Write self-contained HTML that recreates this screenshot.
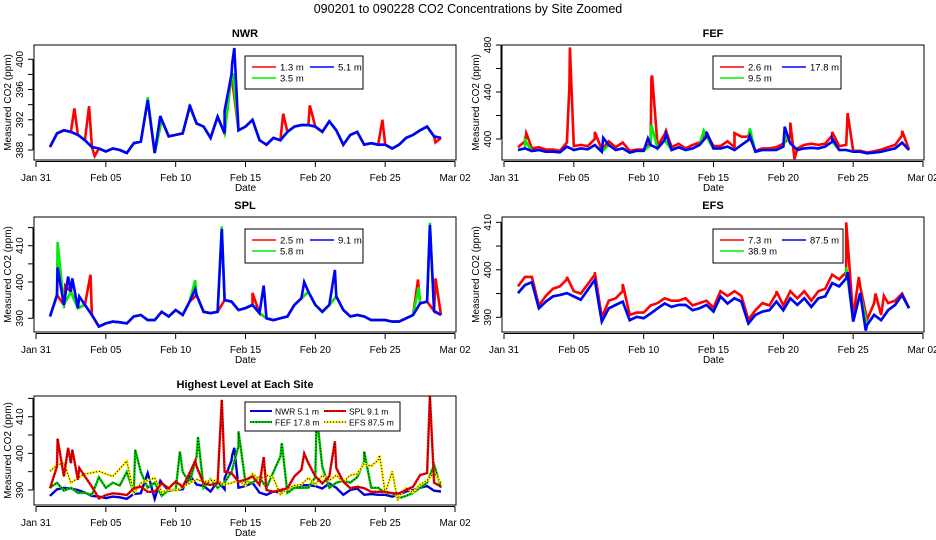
<!DOCTYPE html>
<html><head><meta charset="utf-8">
<style>
html,body{margin:0;padding:0;background:#fff;}
svg{display:block;font-family:"Liberation Sans",Arial,sans-serif;}
</style></head>
<body>
<svg id="chart" width="936" height="540" viewBox="0 0 936 540">
<text x="468" y="13" text-anchor="middle" font-size="12.5">090201  to  090228 CO2 Concentrations by Site Zoomed</text>
</svg>
<script>
// ---- data: half-day samples from Feb 1 (day 1) to Feb 29.0 (day 29) ----
const xTickDays = [0,5,10,15,20,25,30];
const xTickLabels = ["Jan 31","Feb 05","Feb 10","Feb 15","Feb 20","Feb 25","Mar 02"];

const nwrBlue = [388.4,390.2,390.6,390.4,390.0,389.3,388.4,388.2,387.8,388.2,
 388.0,387.6,388.9,389.1,394.6,387.6,392.0,389.8,390.0,390.2,
 393.7,391.5,391.1,389.6,392.4,390.2,398.0,390.6,391.1,392.0,
 389.3,388.7,389.6,389.3,390.4,391.1,391.3,391.3,391.1,390.4,
 391.8,390.6,388.7,390.0,390.4,388.7,388.9,388.7,388.7,388.2,
 388.7,389.6,390.0,390.6,391.1,389.8,389.6];
const nwrBlueSpikes = [[14.2,401.5],[14.05,399.5],[8.9,392.5],[11.0,394.0],[13.5,393.2]];
const nwrRedSpikes = [[2.75,393.5],[3.8,393.8],[17.7,392.8],[19.6,393.9],[24.8,392.0],[28.6,389.0],[4.2,387.2]];
const nwrGreenSpikes = [[14.1,398.0],[8.0,395.0]];

const fefBlue = [390.6,392.0,389.8,390.6,389.2,389.2,388.7,393.5,390.6,392.0,
 391.2,394.9,389.2,394.9,390.6,392.0,388.4,390.0,390.0,394.9,
 392.0,399.1,390.6,392.9,390.6,392.0,394.9,402.0,392.0,392.0,
 393.5,390.6,394.9,399.1,389.2,390.6,390.6,390.6,393.5,396.3,
 390.6,392.0,392.5,392.0,393.5,397.7,390.6,390.6,389.2,389.2,
 387.8,388.4,389.2,390.6,392.0,396.9,390.6];
const fefBlueSpikes = [[20.1,410.5],[14.5,406],[11.6,404.5],[17.6,402.8],[7.1,401],[23.5,400.5],[10.3,400.5]];
const fefRed = [393,398,392,393,391,391,390,397,394,395,
 394,400,391,398,393,397,390,391,391,397,
 394,404,393,396,392,395,397,405,394,394,
 398,393,402,402,390,392,392,393,396,402,
 392,395,396,395,396,403,394,395,390,390,
 388.5,389.5,391,393,395,403,391];
const fefRedSpikes = [[1.6,405],[4.72,478],[4.68,445],[10.6,454],[10.55,452],[24.6,422],[20.5,414],[20.8,383],[6.5,406],[11.6,407],[16.5,405],[17.5,404],[23.5,406],[28.5,407]];
const fefGreenSpikes = [[10.55,412],[14.3,407],[17.6,409],[1.5,399],[20.2,402]];

const splBlue = [390.5,396.4,393.7,397.3,392.8,393.7,390.9,387.7,388.6,389.1,
 388.9,388.6,390.5,390.9,389.5,389.5,391.8,390.5,392.3,390.9,
 394.6,396.4,391.8,391.4,391.8,395.0,394.6,392.3,392.8,393.7,
 391.4,390.0,389.5,390.0,390.5,393.7,395.5,397.3,393.7,391.8,
 393.7,396.0,392.3,390.5,390.9,390.5,389.5,389.5,389.5,389.1,
 389.1,390.0,390.9,394.1,394.6,392.0,390.9];
const splBlueSpikes = [[1.55,404],[2.6,401],[2.3,401.5],[3.1,396],[13.3,414.6],[16.3,399],[19.2,400],[21.4,403.3],[28.2,415.7],[11.4,398]];
const splRedSpikes = [[3.9,402],[2.1,399],[27.35,400.7],[28.6,401],[15.5,397]];
const splGreenSpikes = [[1.55,411],[13.3,415.3],[28.2,416.3],[11.4,400.5],[27.4,398.5]];

const efsBlue = [395.1,396.8,397.4,391.9,393.3,394.4,394.7,395.1,394.4,393.7,
 395.8,397.9,389.1,391.9,392.6,393.3,389.4,390.1,389.8,390.8,
 391.9,392.9,392.2,392.6,392.6,391.5,391.9,392.6,391.2,394.4,
 392.9,394.0,393.3,388.7,390.5,391.2,391.5,393.3,391.5,394.0,
 392.6,394.0,392.2,394.0,394.4,397.2,396.5,398.2,389.1,395.1,
 388.4,390.5,389.4,391.5,392.6,394.7,391.9];
const efsBlueSpikes = [[24.6,399.5],[25.9,387.2]];
const efsRed = [396.5,398.5,398.5,392.5,394.5,396,396.5,398,395.5,395,
 397,399,390,393.5,394,395.5,390.5,391,391,392.5,
 393,394,393.5,393.5,394,392.5,393,393.5,392,395.5,
 394.5,395.5,394.5,389.5,391.5,393,392.5,395,392.5,395.5,
 394,395.5,393.5,395.5,396,399,398,399.5,390,396.5,
 389.5,393,390.5,393,393.5,395,392];
const efsRedSpikes = [[24.5,410],[25.4,398.5],[19.5,395.5],[26.6,395],[27.2,394.5],[8.5,397],[4.5,398.5],[6.5,399.5]];
const efsGreenSpikes = [[24.5,400.5]];

// ---- rendering ----
const NS = "http://www.w3.org/2000/svg";
const svg = document.getElementById("chart");
const PXDAY = 13.967;
function mk(tag, attrs, parent){
  const e = document.createElementNS(NS, tag);
  for (const k in attrs) e.setAttribute(k, attrs[k]);
  (parent||svg).appendChild(e);
  return e;
}
function seriesPoints(base, spikes){
  const pts = base.map((v,i)=>[1+0.5*i, v]);
  (spikes||[]).forEach(s=>pts.push([s[0], s[1]]));
  pts.sort((a,b)=>a[0]-b[0]);
  return pts;
}
function makeY(v1,y1,v2,y2){ return v=> y1 + (v-v1)*(y2-y1)/(v2-v1); }

function panel(cfg){
  const g = mk("g", {});
  
  
  const ox = cfg.ox, L = ox+34, R = ox+456, T = cfg.top, B = cfg.bot;
  const xs = d => ox + 36 + d*PXDAY;
  const ys = cfg.y;
  const cid = "clip-"+cfg.name;
  const cp = mk("clipPath", {id:cid}, g);
  mk("rect", {x:L, y:T, width:R-L, height:B-T}, cp);
  const t = mk("text", {x:(L+R)/2, y:T-8, "text-anchor":"middle", "font-size":"11", "font-weight":"bold"}, g);
  t.textContent = cfg.title;
  
  
  const sg = mk("g", {"clip-path":"url(#"+cid+")"}, g);
  cfg.series.forEach(s=>{
    const pts = seriesPoints(s.base, s.spikes);
    const d = pts.map((p,i)=>(i?"L":"M")+xs(p[0]).toFixed(1)+" "+ys(p[1]).toFixed(1)).join(" ");
    const p = mk("path", {d:d, fill:"none", stroke:s.color, "stroke-width":s.w||2.6, "stroke-linejoin":"miter"}, sg);
    
    
    if (s.dotted){
      const p2 = mk("path", {d:d, fill:"none", stroke:"#000", "stroke-width":1, "stroke-dasharray":"1 2"}, sg);
      
      
    }
  });
  const box = mk("rect", {x:L, y:T, width:R-L, height:B-T, fill:"none", stroke:"#000", "stroke-width":1}, g);
  
  
  const ax = mk("g", {}, g);
  
  
  mk("line", {x1:xs(0), x2:xs(30), y1:B+1.5, y2:B+1.5, stroke:"#000"}, ax);
  xTickDays.forEach((d,i)=>{
    mk("line", {x1:xs(d), x2:xs(d), y1:B+1.5, y2:B+7, stroke:"#000"}, ax);
    const tl = mk("text", {x:xs(d), y:B+21, "text-anchor":"middle", "font-size":"10"}, ax);
    tl.textContent = xTickLabels[i];
    
    
  });
  const xt = mk("text", {x:xs(15), y:B+31, "text-anchor":"middle", "font-size":"10"}, g);
  xt.textContent = "Date";
  
  
  const ay = mk("g", {}, g);
  
  
  const tk = cfg.ticks;
  mk("line", {x1:L-1, x2:L-1, y1:ys(tk[0]), y2:ys(tk[tk.length-1]), stroke:"#000"}, ay);
  tk.forEach(v=>{
    mk("line", {x1:L-6, x2:L-1, y1:ys(v), y2:ys(v), stroke:"#000"}, ay);
    if (cfg.labels.indexOf(v) >= 0){
      const yl = mk("text", {x:0, y:0, "text-anchor":"middle", "font-size":"10",
        transform:"translate("+(ox+23)+","+ys(v).toFixed(1)+") rotate(-90)"}, ay);
      yl.textContent = v;
      
      
    }
  });
  const yt = mk("text", {x:0, y:0, "text-anchor":"middle", "font-size":"10",
    transform:"translate("+(ox+11)+","+((T+B)/2)+") rotate(-90)"}, g);
  yt.textContent = "Measured CO2 (ppm)";
  
  
  const lg = cfg.legend;
  const lgG = mk("g", {}, g);
  
  
  mk("rect", {x:ox+lg.x, y:lg.y, width:lg.w, height:lg.h, fill:"#fff", stroke:"#000"}, lgG);
  lg.items.forEach(it=>{
    const e = mk("g", {}, lgG);
    
    
    mk("line", {x1:ox+it.x, x2:ox+it.x+lg.lineW, y1:it.y, y2:it.y, stroke:it.color, "stroke-width":it.dotted?2:1.5}, e);
    if (it.dotted) mk("line", {x1:ox+it.x, x2:ox+it.x+lg.lineW, y1:it.y, y2:it.y, stroke:"#000", "stroke-width":1, "stroke-dasharray":"1 2"}, e);
    const tx = mk("text", {x:ox+it.tx, y:it.y+3.5, "font-size":lg.fs||"9.5"}, e);
    tx.textContent = it.label;
  });
}

panel({name:"nwr", title:"NWR", ox:0, top:45, bot:160, y:makeY(400,59.3,388,150),
  ticks:[388,390,392,394,396,398,400], labels:[388,392,396,400],
  series:[{base:nwrBlue, spikes:nwrRedSpikes, color:"#ff0000"},
          {base:nwrBlue, spikes:nwrGreenSpikes, color:"#00ee00"},
          {base:nwrBlue, spikes:nwrBlueSpikes, color:"#0000ff"}],
  legend:{x:245,y:56,w:118,h:33,lineW:24,items:[
    {x:252,y:67,color:"#ff0000",tx:280,label:"1.3 m"},
    {x:252,y:78,color:"#00ee00",tx:280,label:"3.5 m"},
    {x:310,y:67,color:"#0000ff",tx:338,label:"5.1 m"}]}});

panel({name:"fef", title:"FEF", ox:468, top:45, bot:160, y:makeY(480,45,400,139),
  ticks:[400,420,440,460,480], labels:[400,440,480],
  series:[{base:fefRed, spikes:fefRedSpikes, color:"#ff0000"},
          {base:fefBlue, spikes:fefGreenSpikes, color:"#00ee00"},
          {base:fefBlue, spikes:fefBlueSpikes, color:"#0000ff"}],
  legend:{x:245,y:56,w:128,h:33,lineW:24,items:[
    {x:252,y:67,color:"#ff0000",tx:280,label:"2.6 m"},
    {x:252,y:78,color:"#00ee00",tx:280,label:"9.5 m"},
    {x:314,y:67,color:"#0000ff",tx:342,label:"17.8 m"}]}});

panel({name:"spl", title:"SPL", ox:0, top:217, bot:332, y:makeY(390,318.3,410,245.7),
  ticks:[390,395,400,405,410,415], labels:[390,400,410],
  series:[{base:splBlue, spikes:splRedSpikes, color:"#ff0000"},
          {base:splBlue, spikes:splGreenSpikes, color:"#00ee00"},
          {base:splBlue, spikes:splBlueSpikes, color:"#0000ff"}],
  legend:{x:245,y:229,w:118,h:34,lineW:24,items:[
    {x:252,y:240,color:"#ff0000",tx:280,label:"2.5 m"},
    {x:252,y:251,color:"#00ee00",tx:280,label:"5.8 m"},
    {x:310,y:240,color:"#0000ff",tx:338,label:"9.1 m"}]}});

panel({name:"efs", title:"EFS", ox:468, top:217, bot:332, y:makeY(390,317.3,410,222.3),
  ticks:[390,395,400,405,410], labels:[390,400,410],
  series:[{base:efsRed, spikes:efsRedSpikes, color:"#ff0000"},
          {base:efsBlue, spikes:efsGreenSpikes, color:"#00ee00"},
          {base:efsBlue, spikes:efsBlueSpikes, color:"#0000ff"}],
  legend:{x:245,y:229,w:130,h:34,lineW:24,items:[
    {x:252,y:240,color:"#ff0000",tx:280,label:"7.3 m"},
    {x:252,y:251,color:"#00ee00",tx:280,label:"38.9 m"},
    {x:314,y:240,color:"#0000ff",tx:342,label:"87.5 m"}]}});

panel({name:"highest", title:"Highest Level at Each Site", ox:0, top:396, bot:505, y:makeY(390,490,410,416.7),
  ticks:[390,395,400,405,410,415], labels:[390,400,410],
  series:[{base:nwrBlue, spikes:nwrBlueSpikes, color:"#0000ff", dotted:true, w:2.4},
          {base:fefBlue, spikes:fefBlueSpikes, color:"#00cc00", dotted:true, w:2.4},
          {base:efsBlue, spikes:efsBlueSpikes, color:"#ffee00", dotted:true, w:2.4},
          {base:splBlue, spikes:splBlueSpikes, color:"#ff0000", dotted:true, w:2.4}],
  legend:{x:245,y:402,w:155,h:29,lineW:22,fs:"8.5",items:[
    {x:250,y:411,color:"#0000ff",dotted:true,tx:275,label:"NWR  5.1 m"},
    {x:250,y:422,color:"#00cc00",dotted:true,tx:275,label:"FEF  17.8 m"},
    {x:324,y:411,color:"#ff0000",dotted:true,tx:349,label:"SPL  9.1 m"},
    {x:324,y:422,color:"#ffee00",dotted:true,tx:349,label:"EFS  87.5 m"}]}});
</script>
</body></html>
